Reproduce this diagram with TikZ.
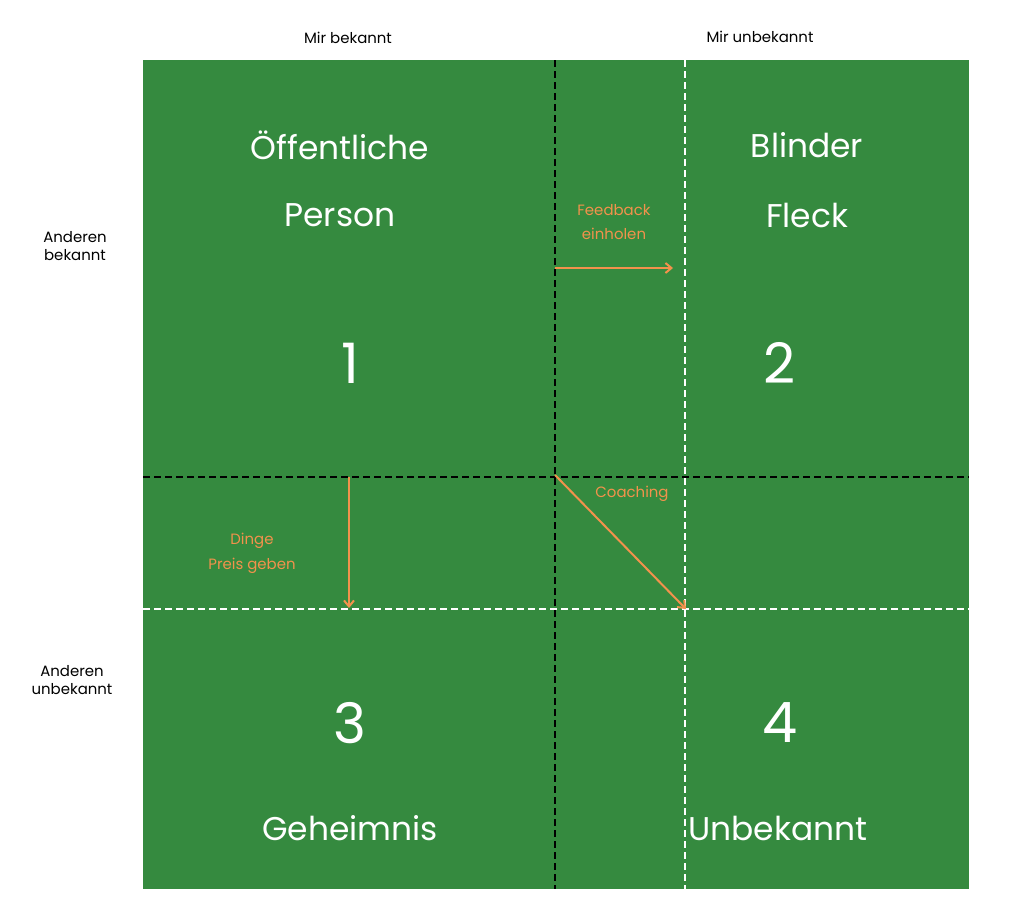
\documentclass[tikz,border=0pt]{standalone}
\usepackage{fontspec}
\setmainfont{Poppins}
\usetikzlibrary{arrows.meta}
\definecolor{jgreen}{HTML}{358A3F}
\definecolor{jorange}{HTML}{F2924C}
\begin{document}
\begin{tikzpicture}[x=1bp,y=-1bp,
  big/.style={text=white,font=\fontsize{33}{40}\selectfont},
  num/.style={text=white,font=\fontsize{56}{60}\selectfont},
  lab/.style={text=black,font=\fontsize{15}{18}\selectfont,align=center},
  olab/.style={text=jorange,font=\fontsize{15}{25}\selectfont,align=center},
  oarr/.style={draw=jorange,line width=2bp,-{Straight Barb[length=6bp,width=10bp]}},
  bdash/.style={draw=black,line width=2.2bp,dash pattern=on 7bp off 4bp},
  wdash/.style={draw=white,line width=2.2bp,dash pattern=on 7bp off 4bp}]
\useasboundingbox (0,0) rectangle (1024,903);
\fill[jgreen] (143,60) rectangle (969,889);
\coordinate (vt) at (555,60); \coordinate (vb) at (555,889);
\coordinate (hl) at (143,477); \coordinate (hr) at (969,477);
\coordinate (wt) at (685,60); \coordinate (wb) at (685,889);
\coordinate (wl) at (143,609); \coordinate (wr) at (969,609);
\draw[bdash] (vt) -- (vb);
\draw[bdash] (hl) -- (hr);
\draw[wdash] (wt) -- (wb);
\draw[wdash] (wl) -- (wr);
\node[big] (t1) at (340,145) {Öffentliche};
\node[big] (t1b) at (340,215) {Person};
\node[big] (t2) at (807,145) {Blinder};
\node[big] (t2b) at (807,215) {Fleck};
\node[num] (n1) at (350,363) {1};
\node[num] (n2) at (780,363) {2};
\node[num] (n3) at (350,723) {3};
\node[num] (n4) at (780,723) {4};
\node[big] (t3) at (350,828) {Geheimnis};
\node[big] (t4) at (778,828) {Unbekannt};
\node[lab] (m1) at (348,38) {Mir bekannt};
\node[lab] (m2) at (760,37) {Mir unbekannt};
\node[lab] (a1) at (75,246) {Anderen\\bekannt};
\node[lab] (a2) at (72,680) {Anderen\\unbekannt};
\node[olab] (fb) at (614,222) {Feedback\\einholen};
\node[olab] (co) at (632,494) {Coaching};
\node[olab] (dp) at (252,553) {Dinge\\Preis geben};
\coordinate (f1) at (555,268); \coordinate (f2) at (673,268);
\coordinate (c1) at (555,475); \coordinate (c2) at (686,609);
\coordinate (d1) at (349,477); \coordinate (d2) at (349,608);
\draw[oarr] (f1) -- (f2);
\draw[oarr] (c1) -- (c2);
\draw[oarr] (d1) -- (d2);
\end{tikzpicture}
\end{document}
